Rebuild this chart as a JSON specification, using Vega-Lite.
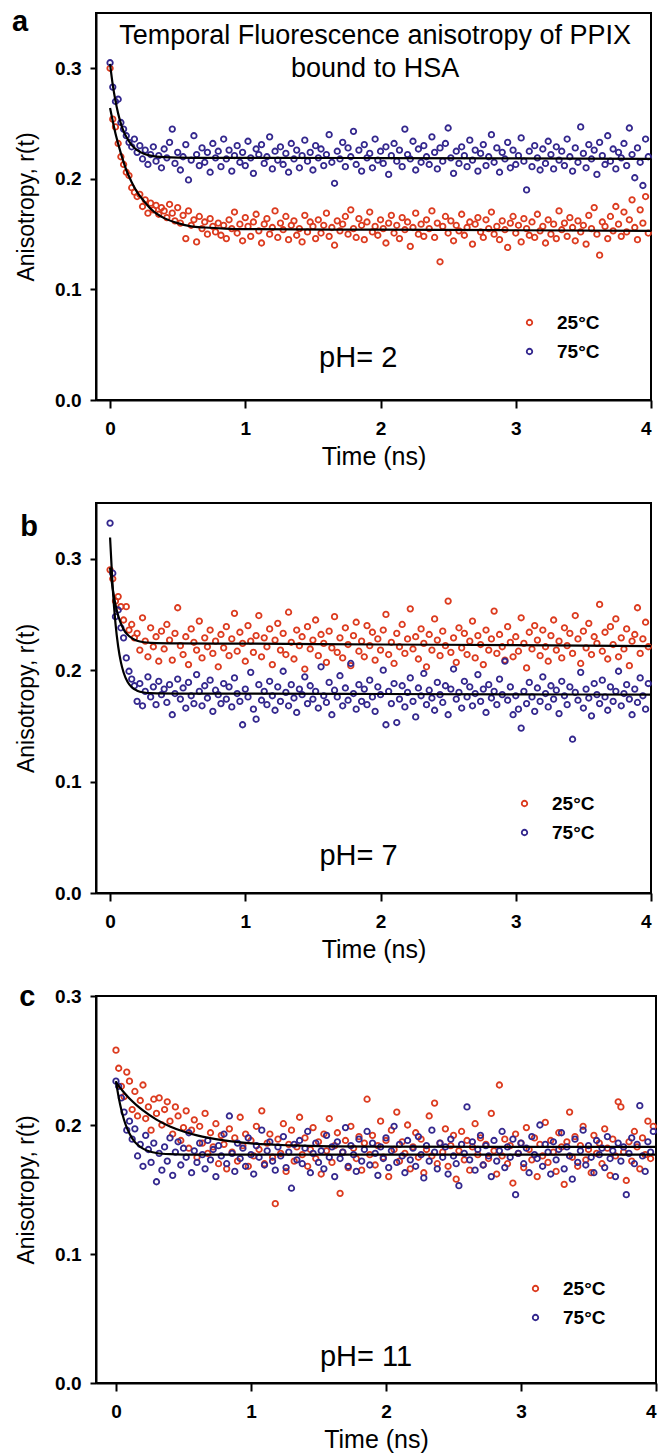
{
"$schema":"https://vega.github.io/schema/vega-lite/v6.json",
"background":"white",
"padding":{"left":11,"top":7,"right":0,"bottom":0},
"spacing":103,
"bounds":"flush",
"resolve":{"legend":{"color":"independent"}},
"config":{
"font":"Liberation Sans",
"view":{"stroke":"black","strokeWidth":2},
"axis":{"grid":false,"domainColor":"black","domainWidth":2,"tickColor":"black","tickWidth":2,"labelColor":"black","titleColor":"black","labelFont":"Liberation Sans","titleFont":"Liberation Sans","labelFontSize":19,"labelFontWeight":"bold","titleFontWeight":"normal"},
"axisX":{"tickSize":8,"labelPadding":11,"titleFontSize":25,"titlePadding":6},
"axisY":{"tickSize":6,"labelPadding":9,"titleFontSize":23,"titlePadding":16},
"legend":{"labelFont":"Liberation Sans","labelFontSize":19,"labelFontWeight":"bold","labelColor":"black","symbolSize":30,"symbolStrokeWidth":1.8,"labelOffset":18,"rowPadding":9,"padding":0}
},
"datasets":{
"pa":[
{"t":0,"T":25,"r":0.300},{"t":0.02,"T":25,"r":0.254},{"t":0.04,"T":25,"r":0.247},{"t":0.06,"T":25,"r":0.232},{"t":0.08,"T":25,"r":0.220},{"t":0.1,"T":25,"r":0.213},{"t":0.12,"T":25,"r":0.206},{"t":0.14,"T":25,"r":0.203},{"t":0.16,"T":25,"r":0.192},{"t":0.18,"T":25,"r":0.188},
{"t":0.2,"T":25,"r":0.184},{"t":0.22,"T":25,"r":0.186},{"t":0.24,"T":25,"r":0.175},{"t":0.26,"T":25,"r":0.181},{"t":0.28,"T":25,"r":0.169},{"t":0.3,"T":25,"r":0.178},{"t":0.32,"T":25,"r":0.172},{"t":0.34,"T":25,"r":0.176},{"t":0.36,"T":25,"r":0.168},{"t":0.38,"T":25,"r":0.174},
{"t":0.4,"T":25,"r":0.171},{"t":0.42,"T":25,"r":0.165},{"t":0.44,"T":25,"r":0.177},{"t":0.46,"T":25,"r":0.169},{"t":0.48,"T":25,"r":0.162},{"t":0.5,"T":25,"r":0.174},{"t":0.52,"T":25,"r":0.160},{"t":0.54,"T":25,"r":0.167},{"t":0.56,"T":25,"r":0.146},{"t":0.58,"T":25,"r":0.171},
{"t":0.6,"T":25,"r":0.158},{"t":0.62,"T":25,"r":0.163},{"t":0.64,"T":25,"r":0.143},{"t":0.66,"T":25,"r":0.166},{"t":0.68,"T":25,"r":0.155},{"t":0.7,"T":25,"r":0.161},{"t":0.72,"T":25,"r":0.150},{"t":0.74,"T":25,"r":0.164},{"t":0.76,"T":25,"r":0.157},{"t":0.78,"T":25,"r":0.152},
{"t":0.8,"T":25,"r":0.160},{"t":0.82,"T":25,"r":0.149},{"t":0.84,"T":25,"r":0.158},{"t":0.86,"T":25,"r":0.146},{"t":0.88,"T":25,"r":0.163},{"t":0.9,"T":25,"r":0.155},{"t":0.92,"T":25,"r":0.170},{"t":0.94,"T":25,"r":0.151},{"t":0.96,"T":25,"r":0.159},{"t":0.98,"T":25,"r":0.144},
{"t":1,"T":25,"r":0.165},{"t":1.02,"T":25,"r":0.157},{"t":1.04,"T":25,"r":0.148},{"t":1.06,"T":25,"r":0.161},{"t":1.08,"T":25,"r":0.168},{"t":1.1,"T":25,"r":0.153},{"t":1.12,"T":25,"r":0.142},{"t":1.14,"T":25,"r":0.159},{"t":1.16,"T":25,"r":0.164},{"t":1.18,"T":25,"r":0.150},
{"t":1.2,"T":25,"r":0.156},{"t":1.22,"T":25,"r":0.171},{"t":1.24,"T":25,"r":0.147},{"t":1.26,"T":25,"r":0.160},{"t":1.28,"T":25,"r":0.154},{"t":1.3,"T":25,"r":0.166},{"t":1.32,"T":25,"r":0.145},{"t":1.34,"T":25,"r":0.158},{"t":1.36,"T":25,"r":0.162},{"t":1.38,"T":25,"r":0.149},
{"t":1.4,"T":25,"r":0.155},{"t":1.42,"T":25,"r":0.143},{"t":1.44,"T":25,"r":0.167},{"t":1.46,"T":25,"r":0.152},{"t":1.48,"T":25,"r":0.161},{"t":1.5,"T":25,"r":0.157},{"t":1.52,"T":25,"r":0.146},{"t":1.54,"T":25,"r":0.163},{"t":1.56,"T":25,"r":0.151},{"t":1.58,"T":25,"r":0.158},
{"t":1.6,"T":25,"r":0.169},{"t":1.62,"T":25,"r":0.148},{"t":1.64,"T":25,"r":0.156},{"t":1.66,"T":25,"r":0.140},{"t":1.68,"T":25,"r":0.162},{"t":1.7,"T":25,"r":0.153},{"t":1.72,"T":25,"r":0.159},{"t":1.74,"T":25,"r":0.166},{"t":1.76,"T":25,"r":0.150},{"t":1.78,"T":25,"r":0.172},
{"t":1.8,"T":25,"r":0.155},{"t":1.82,"T":25,"r":0.147},{"t":1.84,"T":25,"r":0.164},{"t":1.86,"T":25,"r":0.158},{"t":1.88,"T":25,"r":0.145},{"t":1.9,"T":25,"r":0.161},{"t":1.92,"T":25,"r":0.170},{"t":1.94,"T":25,"r":0.152},{"t":1.96,"T":25,"r":0.157},{"t":1.98,"T":25,"r":0.149},
{"t":2,"T":25,"r":0.163},{"t":2.02,"T":25,"r":0.155},{"t":2.04,"T":25,"r":0.142},{"t":2.06,"T":25,"r":0.160},{"t":2.08,"T":25,"r":0.167},{"t":2.1,"T":25,"r":0.151},{"t":2.12,"T":25,"r":0.158},{"t":2.14,"T":25,"r":0.146},{"t":2.16,"T":25,"r":0.165},{"t":2.18,"T":25,"r":0.154},
{"t":2.2,"T":25,"r":0.161},{"t":2.22,"T":25,"r":0.139},{"t":2.24,"T":25,"r":0.156},{"t":2.26,"T":25,"r":0.169},{"t":2.28,"T":25,"r":0.150},{"t":2.3,"T":25,"r":0.159},{"t":2.32,"T":25,"r":0.148},{"t":2.34,"T":25,"r":0.163},{"t":2.36,"T":25,"r":0.155},{"t":2.38,"T":25,"r":0.171},
{"t":2.4,"T":25,"r":0.147},{"t":2.42,"T":25,"r":0.160},{"t":2.44,"T":25,"r":0.125},{"t":2.46,"T":25,"r":0.157},{"t":2.48,"T":25,"r":0.166},{"t":2.5,"T":25,"r":0.151},{"t":2.52,"T":25,"r":0.162},{"t":2.54,"T":25,"r":0.144},{"t":2.56,"T":25,"r":0.158},{"t":2.58,"T":25,"r":0.153},
{"t":2.6,"T":25,"r":0.168},{"t":2.62,"T":25,"r":0.149},{"t":2.64,"T":25,"r":0.156},{"t":2.66,"T":25,"r":0.161},{"t":2.68,"T":25,"r":0.141},{"t":2.7,"T":25,"r":0.159},{"t":2.72,"T":25,"r":0.165},{"t":2.74,"T":25,"r":0.152},{"t":2.76,"T":25,"r":0.147},{"t":2.78,"T":25,"r":0.163},
{"t":2.8,"T":25,"r":0.155},{"t":2.82,"T":25,"r":0.170},{"t":2.84,"T":25,"r":0.150},{"t":2.86,"T":25,"r":0.157},{"t":2.88,"T":25,"r":0.145},{"t":2.9,"T":25,"r":0.162},{"t":2.92,"T":25,"r":0.154},{"t":2.94,"T":25,"r":0.138},{"t":2.96,"T":25,"r":0.160},{"t":2.98,"T":25,"r":0.166},
{"t":3,"T":25,"r":0.151},{"t":3.02,"T":25,"r":0.158},{"t":3.04,"T":25,"r":0.143},{"t":3.06,"T":25,"r":0.164},{"t":3.08,"T":25,"r":0.155},{"t":3.1,"T":25,"r":0.149},{"t":3.12,"T":25,"r":0.161},{"t":3.14,"T":25,"r":0.147},{"t":3.16,"T":25,"r":0.168},{"t":3.18,"T":25,"r":0.153},
{"t":3.2,"T":25,"r":0.157},{"t":3.22,"T":25,"r":0.142},{"t":3.24,"T":25,"r":0.163},{"t":3.26,"T":25,"r":0.150},{"t":3.28,"T":25,"r":0.159},{"t":3.3,"T":25,"r":0.146},{"t":3.32,"T":25,"r":0.171},{"t":3.34,"T":25,"r":0.154},{"t":3.36,"T":25,"r":0.160},{"t":3.38,"T":25,"r":0.148},
{"t":3.4,"T":25,"r":0.165},{"t":3.42,"T":25,"r":0.156},{"t":3.44,"T":25,"r":0.144},{"t":3.46,"T":25,"r":0.162},{"t":3.48,"T":25,"r":0.152},{"t":3.5,"T":25,"r":0.158},{"t":3.52,"T":25,"r":0.141},{"t":3.54,"T":25,"r":0.167},{"t":3.56,"T":25,"r":0.155},{"t":3.58,"T":25,"r":0.174},
{"t":3.6,"T":25,"r":0.150},{"t":3.62,"T":25,"r":0.131},{"t":3.64,"T":25,"r":0.161},{"t":3.66,"T":25,"r":0.157},{"t":3.68,"T":25,"r":0.146},{"t":3.7,"T":25,"r":0.166},{"t":3.72,"T":25,"r":0.153},{"t":3.74,"T":25,"r":0.175},{"t":3.76,"T":25,"r":0.159},{"t":3.78,"T":25,"r":0.148},
{"t":3.8,"T":25,"r":0.170},{"t":3.82,"T":25,"r":0.152},{"t":3.84,"T":25,"r":0.163},{"t":3.86,"T":25,"r":0.181},{"t":3.88,"T":25,"r":0.156},{"t":3.9,"T":25,"r":0.145},{"t":3.92,"T":25,"r":0.172},{"t":3.94,"T":25,"r":0.160},{"t":3.96,"T":25,"r":0.184},{"t":3.98,"T":25,"r":0.151},
{"t":0,"T":75,"r":0.305},{"t":0.02,"T":75,"r":0.283},{"t":0.04,"T":75,"r":0.270},{"t":0.06,"T":75,"r":0.272},{"t":0.08,"T":75,"r":0.251},{"t":0.1,"T":75,"r":0.245},{"t":0.12,"T":75,"r":0.239},{"t":0.14,"T":75,"r":0.233},{"t":0.16,"T":75,"r":0.229},{"t":0.18,"T":75,"r":0.236},
{"t":0.2,"T":75,"r":0.224},{"t":0.22,"T":75,"r":0.230},{"t":0.24,"T":75,"r":0.218},{"t":0.26,"T":75,"r":0.226},{"t":0.28,"T":75,"r":0.213},{"t":0.3,"T":75,"r":0.222},{"t":0.32,"T":75,"r":0.229},{"t":0.34,"T":75,"r":0.216},{"t":0.36,"T":75,"r":0.221},{"t":0.38,"T":75,"r":0.210},
{"t":0.4,"T":75,"r":0.227},{"t":0.42,"T":75,"r":0.219},{"t":0.44,"T":75,"r":0.233},{"t":0.46,"T":75,"r":0.245},{"t":0.48,"T":75,"r":0.214},{"t":0.5,"T":75,"r":0.224},{"t":0.52,"T":75,"r":0.208},{"t":0.54,"T":75,"r":0.220},{"t":0.56,"T":75,"r":0.231},{"t":0.58,"T":75,"r":0.199},
{"t":0.6,"T":75,"r":0.217},{"t":0.62,"T":75,"r":0.239},{"t":0.64,"T":75,"r":0.222},{"t":0.66,"T":75,"r":0.212},{"t":0.68,"T":75,"r":0.228},{"t":0.7,"T":75,"r":0.215},{"t":0.72,"T":75,"r":0.224},{"t":0.74,"T":75,"r":0.206},{"t":0.76,"T":75,"r":0.232},{"t":0.78,"T":75,"r":0.219},
{"t":0.8,"T":75,"r":0.225},{"t":0.82,"T":75,"r":0.211},{"t":0.84,"T":75,"r":0.236},{"t":0.86,"T":75,"r":0.218},{"t":0.88,"T":75,"r":0.226},{"t":0.9,"T":75,"r":0.207},{"t":0.92,"T":75,"r":0.221},{"t":0.94,"T":75,"r":0.230},{"t":0.96,"T":75,"r":0.215},{"t":0.98,"T":75,"r":0.224},
{"t":1,"T":75,"r":0.212},{"t":1.02,"T":75,"r":0.234},{"t":1.04,"T":75,"r":0.219},{"t":1.06,"T":75,"r":0.205},{"t":1.08,"T":75,"r":0.227},{"t":1.1,"T":75,"r":0.222},{"t":1.12,"T":75,"r":0.231},{"t":1.14,"T":75,"r":0.214},{"t":1.16,"T":75,"r":0.220},{"t":1.18,"T":75,"r":0.238},
{"t":1.2,"T":75,"r":0.209},{"t":1.22,"T":75,"r":0.225},{"t":1.24,"T":75,"r":0.217},{"t":1.26,"T":75,"r":0.229},{"t":1.28,"T":75,"r":0.213},{"t":1.3,"T":75,"r":0.223},{"t":1.32,"T":75,"r":0.206},{"t":1.34,"T":75,"r":0.232},{"t":1.36,"T":75,"r":0.218},{"t":1.38,"T":75,"r":0.226},
{"t":1.4,"T":75,"r":0.210},{"t":1.42,"T":75,"r":0.221},{"t":1.44,"T":75,"r":0.235},{"t":1.46,"T":75,"r":0.216},{"t":1.48,"T":75,"r":0.224},{"t":1.5,"T":75,"r":0.208},{"t":1.52,"T":75,"r":0.230},{"t":1.54,"T":75,"r":0.219},{"t":1.56,"T":75,"r":0.227},{"t":1.58,"T":75,"r":0.212},
{"t":1.6,"T":75,"r":0.222},{"t":1.62,"T":75,"r":0.240},{"t":1.64,"T":75,"r":0.215},{"t":1.66,"T":75,"r":0.196},{"t":1.68,"T":75,"r":0.225},{"t":1.7,"T":75,"r":0.218},{"t":1.72,"T":75,"r":0.233},{"t":1.74,"T":75,"r":0.211},{"t":1.76,"T":75,"r":0.228},{"t":1.78,"T":75,"r":0.220},
{"t":1.8,"T":75,"r":0.243},{"t":1.82,"T":75,"r":0.213},{"t":1.84,"T":75,"r":0.226},{"t":1.86,"T":75,"r":0.207},{"t":1.88,"T":75,"r":0.231},{"t":1.9,"T":75,"r":0.219},{"t":1.92,"T":75,"r":0.223},{"t":1.94,"T":75,"r":0.210},{"t":1.96,"T":75,"r":0.236},{"t":1.98,"T":75,"r":0.217},
{"t":2,"T":75,"r":0.225},{"t":2.02,"T":75,"r":0.214},{"t":2.04,"T":75,"r":0.229},{"t":2.06,"T":75,"r":0.204},{"t":2.08,"T":75,"r":0.221},{"t":2.1,"T":75,"r":0.232},{"t":2.12,"T":75,"r":0.216},{"t":2.14,"T":75,"r":0.226},{"t":2.16,"T":75,"r":0.211},{"t":2.18,"T":75,"r":0.245},
{"t":2.2,"T":75,"r":0.222},{"t":2.22,"T":75,"r":0.218},{"t":2.24,"T":75,"r":0.234},{"t":2.26,"T":75,"r":0.208},{"t":2.28,"T":75,"r":0.227},{"t":2.3,"T":75,"r":0.215},{"t":2.32,"T":75,"r":0.230},{"t":2.34,"T":75,"r":0.220},{"t":2.36,"T":75,"r":0.213},{"t":2.38,"T":75,"r":0.238},
{"t":2.4,"T":75,"r":0.224},{"t":2.42,"T":75,"r":0.209},{"t":2.44,"T":75,"r":0.228},{"t":2.46,"T":75,"r":0.216},{"t":2.48,"T":75,"r":0.232},{"t":2.5,"T":75,"r":0.246},{"t":2.52,"T":75,"r":0.219},{"t":2.54,"T":75,"r":0.205},{"t":2.56,"T":75,"r":0.225},{"t":2.58,"T":75,"r":0.214},
{"t":2.6,"T":75,"r":0.229},{"t":2.62,"T":75,"r":0.221},{"t":2.64,"T":75,"r":0.211},{"t":2.66,"T":75,"r":0.235},{"t":2.68,"T":75,"r":0.217},{"t":2.7,"T":75,"r":0.226},{"t":2.72,"T":75,"r":0.207},{"t":2.74,"T":75,"r":0.223},{"t":2.76,"T":75,"r":0.231},{"t":2.78,"T":75,"r":0.212},
{"t":2.8,"T":75,"r":0.220},{"t":2.82,"T":75,"r":0.240},{"t":2.84,"T":75,"r":0.215},{"t":2.86,"T":75,"r":0.228},{"t":2.88,"T":75,"r":0.206},{"t":2.9,"T":75,"r":0.224},{"t":2.92,"T":75,"r":0.218},{"t":2.94,"T":75,"r":0.233},{"t":2.96,"T":75,"r":0.210},{"t":2.98,"T":75,"r":0.226},
{"t":3,"T":75,"r":0.213},{"t":3.02,"T":75,"r":0.221},{"t":3.04,"T":75,"r":0.237},{"t":3.06,"T":75,"r":0.216},{"t":3.08,"T":75,"r":0.190},{"t":3.1,"T":75,"r":0.225},{"t":3.12,"T":75,"r":0.211},{"t":3.14,"T":75,"r":0.230},{"t":3.16,"T":75,"r":0.219},{"t":3.18,"T":75,"r":0.208},
{"t":3.2,"T":75,"r":0.227},{"t":3.22,"T":75,"r":0.214},{"t":3.24,"T":75,"r":0.234},{"t":3.26,"T":75,"r":0.222},{"t":3.28,"T":75,"r":0.209},{"t":3.3,"T":75,"r":0.229},{"t":3.32,"T":75,"r":0.217},{"t":3.34,"T":75,"r":0.225},{"t":3.36,"T":75,"r":0.212},{"t":3.38,"T":75,"r":0.236},
{"t":3.4,"T":75,"r":0.220},{"t":3.42,"T":75,"r":0.207},{"t":3.44,"T":75,"r":0.228},{"t":3.46,"T":75,"r":0.215},{"t":3.48,"T":75,"r":0.247},{"t":3.5,"T":75,"r":0.223},{"t":3.52,"T":75,"r":0.210},{"t":3.54,"T":75,"r":0.231},{"t":3.56,"T":75,"r":0.218},{"t":3.58,"T":75,"r":0.226},
{"t":3.6,"T":75,"r":0.204},{"t":3.62,"T":75,"r":0.233},{"t":3.64,"T":75,"r":0.221},{"t":3.66,"T":75,"r":0.213},{"t":3.68,"T":75,"r":0.239},{"t":3.7,"T":75,"r":0.216},{"t":3.72,"T":75,"r":0.227},{"t":3.74,"T":75,"r":0.209},{"t":3.76,"T":75,"r":0.224},{"t":3.78,"T":75,"r":0.219},
{"t":3.8,"T":75,"r":0.232},{"t":3.82,"T":75,"r":0.212},{"t":3.84,"T":75,"r":0.246},{"t":3.86,"T":75,"r":0.222},{"t":3.88,"T":75,"r":0.201},{"t":3.9,"T":75,"r":0.228},{"t":3.92,"T":75,"r":0.215},{"t":3.94,"T":75,"r":0.194},{"t":3.96,"T":75,"r":0.236},{"t":3.98,"T":75,"r":0.220}
],
"pb":[
{"t":0,"T":25,"r":0.290},{"t":0.02,"T":25,"r":0.282},{"t":0.04,"T":25,"r":0.262},{"t":0.06,"T":25,"r":0.266},{"t":0.08,"T":25,"r":0.257},{"t":0.1,"T":25,"r":0.245},{"t":0.12,"T":25,"r":0.257},{"t":0.14,"T":25,"r":0.236},{"t":0.16,"T":25,"r":0.241},{"t":0.18,"T":25,"r":0.229},
{"t":0.2,"T":25,"r":0.233},{"t":0.22,"T":25,"r":0.218},{"t":0.24,"T":25,"r":0.247},{"t":0.26,"T":25,"r":0.226},{"t":0.28,"T":25,"r":0.212},{"t":0.3,"T":25,"r":0.238},{"t":0.32,"T":25,"r":0.221},{"t":0.34,"T":25,"r":0.230},{"t":0.36,"T":25,"r":0.208},{"t":0.38,"T":25,"r":0.235},
{"t":0.4,"T":25,"r":0.219},{"t":0.42,"T":25,"r":0.241},{"t":0.44,"T":25,"r":0.227},{"t":0.46,"T":25,"r":0.209},{"t":0.48,"T":25,"r":0.233},{"t":0.5,"T":25,"r":0.256},{"t":0.52,"T":25,"r":0.222},{"t":0.54,"T":25,"r":0.214},{"t":0.56,"T":25,"r":0.230},{"t":0.58,"T":25,"r":0.205},
{"t":0.6,"T":25,"r":0.237},{"t":0.62,"T":25,"r":0.225},{"t":0.64,"T":25,"r":0.218},{"t":0.66,"T":25,"r":0.244},{"t":0.68,"T":25,"r":0.211},{"t":0.7,"T":25,"r":0.229},{"t":0.72,"T":25,"r":0.221},{"t":0.74,"T":25,"r":0.236},{"t":0.76,"T":25,"r":0.215},{"t":0.78,"T":25,"r":0.226},
{"t":0.8,"T":25,"r":0.203},{"t":0.82,"T":25,"r":0.232},{"t":0.84,"T":25,"r":0.220},{"t":0.86,"T":25,"r":0.239},{"t":0.88,"T":25,"r":0.213},{"t":0.9,"T":25,"r":0.228},{"t":0.92,"T":25,"r":0.251},{"t":0.94,"T":25,"r":0.217},{"t":0.96,"T":25,"r":0.234},{"t":0.98,"T":25,"r":0.224},
{"t":1,"T":25,"r":0.208},{"t":1.02,"T":25,"r":0.240},{"t":1.04,"T":25,"r":0.226},{"t":1.06,"T":25,"r":0.216},{"t":1.08,"T":25,"r":0.231},{"t":1.1,"T":25,"r":0.249},{"t":1.12,"T":25,"r":0.212},{"t":1.14,"T":25,"r":0.229},{"t":1.16,"T":25,"r":0.221},{"t":1.18,"T":25,"r":0.237},
{"t":1.2,"T":25,"r":0.205},{"t":1.22,"T":25,"r":0.227},{"t":1.24,"T":25,"r":0.242},{"t":1.26,"T":25,"r":0.218},{"t":1.28,"T":25,"r":0.233},{"t":1.3,"T":25,"r":0.214},{"t":1.32,"T":25,"r":0.252},{"t":1.34,"T":25,"r":0.225},{"t":1.36,"T":25,"r":0.210},{"t":1.38,"T":25,"r":0.236},
{"t":1.4,"T":25,"r":0.222},{"t":1.42,"T":25,"r":0.230},{"t":1.44,"T":25,"r":0.201},{"t":1.46,"T":25,"r":0.239},{"t":1.48,"T":25,"r":0.219},{"t":1.5,"T":25,"r":0.227},{"t":1.52,"T":25,"r":0.245},{"t":1.54,"T":25,"r":0.213},{"t":1.56,"T":25,"r":0.232},{"t":1.58,"T":25,"r":0.224},
{"t":1.6,"T":25,"r":0.207},{"t":1.62,"T":25,"r":0.235},{"t":1.64,"T":25,"r":0.220},{"t":1.66,"T":25,"r":0.248},{"t":1.68,"T":25,"r":0.216},{"t":1.7,"T":25,"r":0.229},{"t":1.72,"T":25,"r":0.211},{"t":1.74,"T":25,"r":0.238},{"t":1.76,"T":25,"r":0.223},{"t":1.78,"T":25,"r":0.204},
{"t":1.8,"T":25,"r":0.231},{"t":1.82,"T":25,"r":0.243},{"t":1.84,"T":25,"r":0.217},{"t":1.86,"T":25,"r":0.226},{"t":1.88,"T":25,"r":0.212},{"t":1.9,"T":25,"r":0.240},{"t":1.92,"T":25,"r":0.222},{"t":1.94,"T":25,"r":0.234},{"t":1.96,"T":25,"r":0.209},{"t":1.98,"T":25,"r":0.228},
{"t":2,"T":25,"r":0.218},{"t":2.02,"T":25,"r":0.236},{"t":2.04,"T":25,"r":0.250},{"t":2.06,"T":25,"r":0.214},{"t":2.08,"T":25,"r":0.225},{"t":2.1,"T":25,"r":0.206},{"t":2.12,"T":25,"r":0.233},{"t":2.14,"T":25,"r":0.221},{"t":2.16,"T":25,"r":0.241},{"t":2.18,"T":25,"r":0.215},
{"t":2.2,"T":25,"r":0.228},{"t":2.22,"T":25,"r":0.255},{"t":2.24,"T":25,"r":0.219},{"t":2.26,"T":25,"r":0.230},{"t":2.28,"T":25,"r":0.210},{"t":2.3,"T":25,"r":0.237},{"t":2.32,"T":25,"r":0.224},{"t":2.34,"T":25,"r":0.203},{"t":2.36,"T":25,"r":0.232},{"t":2.38,"T":25,"r":0.218},
{"t":2.4,"T":25,"r":0.246},{"t":2.42,"T":25,"r":0.227},{"t":2.44,"T":25,"r":0.213},{"t":2.46,"T":25,"r":0.235},{"t":2.48,"T":25,"r":0.222},{"t":2.5,"T":25,"r":0.262},{"t":2.52,"T":25,"r":0.216},{"t":2.54,"T":25,"r":0.229},{"t":2.56,"T":25,"r":0.207},{"t":2.58,"T":25,"r":0.238},
{"t":2.6,"T":25,"r":0.220},{"t":2.62,"T":25,"r":0.233},{"t":2.64,"T":25,"r":0.214},{"t":2.66,"T":25,"r":0.226},{"t":2.68,"T":25,"r":0.244},{"t":2.7,"T":25,"r":0.211},{"t":2.72,"T":25,"r":0.231},{"t":2.74,"T":25,"r":0.223},{"t":2.76,"T":25,"r":0.205},{"t":2.78,"T":25,"r":0.236},
{"t":2.8,"T":25,"r":0.218},{"t":2.82,"T":25,"r":0.228},{"t":2.84,"T":25,"r":0.253},{"t":2.86,"T":25,"r":0.215},{"t":2.88,"T":25,"r":0.232},{"t":2.9,"T":25,"r":0.221},{"t":2.92,"T":25,"r":0.209},{"t":2.94,"T":25,"r":0.239},{"t":2.96,"T":25,"r":0.225},{"t":2.98,"T":25,"r":0.212},
{"t":3,"T":25,"r":0.230},{"t":3.02,"T":25,"r":0.217},{"t":3.04,"T":25,"r":0.247},{"t":3.06,"T":25,"r":0.224},{"t":3.08,"T":25,"r":0.202},{"t":3.1,"T":25,"r":0.234},{"t":3.12,"T":25,"r":0.219},{"t":3.14,"T":25,"r":0.240},{"t":3.16,"T":25,"r":0.227},{"t":3.18,"T":25,"r":0.213},
{"t":3.2,"T":25,"r":0.236},{"t":3.22,"T":25,"r":0.221},{"t":3.24,"T":25,"r":0.208},{"t":3.26,"T":25,"r":0.231},{"t":3.28,"T":25,"r":0.245},{"t":3.3,"T":25,"r":0.218},{"t":3.32,"T":25,"r":0.226},{"t":3.34,"T":25,"r":0.211},{"t":3.36,"T":25,"r":0.238},{"t":3.38,"T":25,"r":0.222},
{"t":3.4,"T":25,"r":0.233},{"t":3.42,"T":25,"r":0.215},{"t":3.44,"T":25,"r":0.249},{"t":3.46,"T":25,"r":0.228},{"t":3.48,"T":25,"r":0.206},{"t":3.5,"T":25,"r":0.235},{"t":3.52,"T":25,"r":0.220},{"t":3.54,"T":25,"r":0.242},{"t":3.56,"T":25,"r":0.214},{"t":3.58,"T":25,"r":0.230},
{"t":3.6,"T":25,"r":0.224},{"t":3.62,"T":25,"r":0.259},{"t":3.64,"T":25,"r":0.217},{"t":3.66,"T":25,"r":0.234},{"t":3.68,"T":25,"r":0.210},{"t":3.7,"T":25,"r":0.239},{"t":3.72,"T":25,"r":0.223},{"t":3.74,"T":25,"r":0.246},{"t":3.76,"T":25,"r":0.212},{"t":3.78,"T":25,"r":0.229},
{"t":3.8,"T":25,"r":0.219},{"t":3.82,"T":25,"r":0.237},{"t":3.84,"T":25,"r":0.204},{"t":3.86,"T":25,"r":0.226},{"t":3.88,"T":25,"r":0.232},{"t":3.9,"T":25,"r":0.256},{"t":3.92,"T":25,"r":0.215},{"t":3.94,"T":25,"r":0.228},{"t":3.96,"T":25,"r":0.243},{"t":3.98,"T":25,"r":0.221},
{"t":0,"T":75,"r":0.332},{"t":0.02,"T":75,"r":0.287},{"t":0.04,"T":75,"r":0.248},{"t":0.06,"T":75,"r":0.254},{"t":0.08,"T":75,"r":0.238},{"t":0.1,"T":75,"r":0.229},{"t":0.12,"T":75,"r":0.211},{"t":0.14,"T":75,"r":0.199},{"t":0.16,"T":75,"r":0.192},{"t":0.18,"T":75,"r":0.186},
{"t":0.2,"T":75,"r":0.172},{"t":0.22,"T":75,"r":0.188},{"t":0.24,"T":75,"r":0.168},{"t":0.26,"T":75,"r":0.181},{"t":0.28,"T":75,"r":0.194},{"t":0.3,"T":75,"r":0.176},{"t":0.32,"T":75,"r":0.185},{"t":0.34,"T":75,"r":0.169},{"t":0.36,"T":75,"r":0.190},{"t":0.38,"T":75,"r":0.178},
{"t":0.4,"T":75,"r":0.183},{"t":0.42,"T":75,"r":0.171},{"t":0.44,"T":75,"r":0.187},{"t":0.46,"T":75,"r":0.160},{"t":0.48,"T":75,"r":0.179},{"t":0.5,"T":75,"r":0.192},{"t":0.52,"T":75,"r":0.174},{"t":0.54,"T":75,"r":0.184},{"t":0.56,"T":75,"r":0.166},{"t":0.58,"T":75,"r":0.189},
{"t":0.6,"T":75,"r":0.177},{"t":0.62,"T":75,"r":0.170},{"t":0.64,"T":75,"r":0.196},{"t":0.66,"T":75,"r":0.181},{"t":0.68,"T":75,"r":0.168},{"t":0.7,"T":75,"r":0.186},{"t":0.72,"T":75,"r":0.175},{"t":0.74,"T":75,"r":0.191},{"t":0.76,"T":75,"r":0.163},{"t":0.78,"T":75,"r":0.182},
{"t":0.8,"T":75,"r":0.178},{"t":0.82,"T":75,"r":0.170},{"t":0.84,"T":75,"r":0.188},{"t":0.86,"T":75,"r":0.174},{"t":0.88,"T":75,"r":0.185},{"t":0.9,"T":75,"r":0.167},{"t":0.92,"T":75,"r":0.193},{"t":0.94,"T":75,"r":0.179},{"t":0.96,"T":75,"r":0.172},{"t":0.98,"T":75,"r":0.151},
{"t":1,"T":75,"r":0.183},{"t":1.02,"T":75,"r":0.176},{"t":1.04,"T":75,"r":0.198},{"t":1.06,"T":75,"r":0.165},{"t":1.08,"T":75,"r":0.156},{"t":1.1,"T":75,"r":0.187},{"t":1.12,"T":75,"r":0.173},{"t":1.14,"T":75,"r":0.181},{"t":1.16,"T":75,"r":0.169},{"t":1.18,"T":75,"r":0.190},
{"t":1.2,"T":75,"r":0.177},{"t":1.22,"T":75,"r":0.164},{"t":1.24,"T":75,"r":0.185},{"t":1.26,"T":75,"r":0.172},{"t":1.28,"T":75,"r":0.199},{"t":1.3,"T":75,"r":0.180},{"t":1.32,"T":75,"r":0.168},{"t":1.34,"T":75,"r":0.187},{"t":1.36,"T":75,"r":0.175},{"t":1.38,"T":75,"r":0.162},
{"t":1.4,"T":75,"r":0.183},{"t":1.42,"T":75,"r":0.178},{"t":1.44,"T":75,"r":0.194},{"t":1.46,"T":75,"r":0.170},{"t":1.48,"T":75,"r":0.186},{"t":1.5,"T":75,"r":0.174},{"t":1.52,"T":75,"r":0.181},{"t":1.54,"T":75,"r":0.166},{"t":1.56,"T":75,"r":0.203},{"t":1.58,"T":75,"r":0.177},
{"t":1.6,"T":75,"r":0.171},{"t":1.62,"T":75,"r":0.189},{"t":1.64,"T":75,"r":0.160},{"t":1.66,"T":75,"r":0.182},{"t":1.68,"T":75,"r":0.176},{"t":1.7,"T":75,"r":0.195},{"t":1.72,"T":75,"r":0.168},{"t":1.74,"T":75,"r":0.184},{"t":1.76,"T":75,"r":0.173},{"t":1.78,"T":75,"r":0.206},
{"t":1.8,"T":75,"r":0.179},{"t":1.82,"T":75,"r":0.165},{"t":1.84,"T":75,"r":0.187},{"t":1.86,"T":75,"r":0.172},{"t":1.88,"T":75,"r":0.183},{"t":1.9,"T":75,"r":0.169},{"t":1.92,"T":75,"r":0.191},{"t":1.94,"T":75,"r":0.176},{"t":1.96,"T":75,"r":0.163},{"t":1.98,"T":75,"r":0.185},
{"t":2,"T":75,"r":0.178},{"t":2.02,"T":75,"r":0.200},{"t":2.04,"T":75,"r":0.151},{"t":2.06,"T":75,"r":0.181},{"t":2.08,"T":75,"r":0.170},{"t":2.1,"T":75,"r":0.188},{"t":2.12,"T":75,"r":0.153},{"t":2.14,"T":75,"r":0.174},{"t":2.16,"T":75,"r":0.186},{"t":2.18,"T":75,"r":0.167},
{"t":2.2,"T":75,"r":0.180},{"t":2.22,"T":75,"r":0.193},{"t":2.24,"T":75,"r":0.172},{"t":2.26,"T":75,"r":0.158},{"t":2.28,"T":75,"r":0.184},{"t":2.3,"T":75,"r":0.177},{"t":2.32,"T":75,"r":0.197},{"t":2.34,"T":75,"r":0.169},{"t":2.36,"T":75,"r":0.182},{"t":2.38,"T":75,"r":0.175},
{"t":2.4,"T":75,"r":0.164},{"t":2.42,"T":75,"r":0.189},{"t":2.44,"T":75,"r":0.178},{"t":2.46,"T":75,"r":0.171},{"t":2.48,"T":75,"r":0.186},{"t":2.5,"T":75,"r":0.160},{"t":2.52,"T":75,"r":0.183},{"t":2.54,"T":75,"r":0.201},{"t":2.56,"T":75,"r":0.174},{"t":2.58,"T":75,"r":0.180},
{"t":2.6,"T":75,"r":0.166},{"t":2.62,"T":75,"r":0.190},{"t":2.64,"T":75,"r":0.176},{"t":2.66,"T":75,"r":0.185},{"t":2.68,"T":75,"r":0.168},{"t":2.7,"T":75,"r":0.179},{"t":2.72,"T":75,"r":0.196},{"t":2.74,"T":75,"r":0.172},{"t":2.76,"T":75,"r":0.183},{"t":2.78,"T":75,"r":0.162},
{"t":2.8,"T":75,"r":0.187},{"t":2.82,"T":75,"r":0.175},{"t":2.84,"T":75,"r":0.181},{"t":2.86,"T":75,"r":0.169},{"t":2.88,"T":75,"r":0.192},{"t":2.9,"T":75,"r":0.178},{"t":2.92,"T":75,"r":0.208},{"t":2.94,"T":75,"r":0.173},{"t":2.96,"T":75,"r":0.185},{"t":2.98,"T":75,"r":0.160},
{"t":3,"T":75,"r":0.177},{"t":3.02,"T":75,"r":0.165},{"t":3.04,"T":75,"r":0.148},{"t":3.06,"T":75,"r":0.181},{"t":3.08,"T":75,"r":0.170},{"t":3.1,"T":75,"r":0.189},{"t":3.12,"T":75,"r":0.176},{"t":3.14,"T":75,"r":0.163},{"t":3.16,"T":75,"r":0.184},{"t":3.18,"T":75,"r":0.172},
{"t":3.2,"T":75,"r":0.194},{"t":3.22,"T":75,"r":0.179},{"t":3.24,"T":75,"r":0.167},{"t":3.26,"T":75,"r":0.186},{"t":3.28,"T":75,"r":0.174},{"t":3.3,"T":75,"r":0.182},{"t":3.32,"T":75,"r":0.161},{"t":3.34,"T":75,"r":0.190},{"t":3.36,"T":75,"r":0.177},{"t":3.38,"T":75,"r":0.169},
{"t":3.4,"T":75,"r":0.185},{"t":3.42,"T":75,"r":0.138},{"t":3.44,"T":75,"r":0.180},{"t":3.46,"T":75,"r":0.173},{"t":3.48,"T":75,"r":0.198},{"t":3.5,"T":75,"r":0.166},{"t":3.52,"T":75,"r":0.183},{"t":3.54,"T":75,"r":0.175},{"t":3.56,"T":75,"r":0.159},{"t":3.58,"T":75,"r":0.188},
{"t":3.6,"T":75,"r":0.178},{"t":3.62,"T":75,"r":0.170},{"t":3.64,"T":75,"r":0.191},{"t":3.66,"T":75,"r":0.176},{"t":3.68,"T":75,"r":0.164},{"t":3.7,"T":75,"r":0.185},{"t":3.72,"T":75,"r":0.172},{"t":3.74,"T":75,"r":0.181},{"t":3.76,"T":75,"r":0.199},{"t":3.78,"T":75,"r":0.168},
{"t":3.8,"T":75,"r":0.179},{"t":3.82,"T":75,"r":0.187},{"t":3.84,"T":75,"r":0.174},{"t":3.86,"T":75,"r":0.160},{"t":3.88,"T":75,"r":0.183},{"t":3.9,"T":75,"r":0.171},{"t":3.92,"T":75,"r":0.193},{"t":3.94,"T":75,"r":0.177},{"t":3.96,"T":75,"r":0.165},{"t":3.98,"T":75,"r":0.188}
],
"pc":[
{"t":0,"T":25,"r":0.258},{"t":0.02,"T":25,"r":0.244},{"t":0.04,"T":25,"r":0.230},{"t":0.06,"T":25,"r":0.222},{"t":0.08,"T":25,"r":0.241},{"t":0.1,"T":25,"r":0.234},{"t":0.12,"T":25,"r":0.212},{"t":0.14,"T":25,"r":0.226},{"t":0.16,"T":25,"r":0.207},{"t":0.18,"T":25,"r":0.219},
{"t":0.2,"T":25,"r":0.231},{"t":0.22,"T":25,"r":0.205},{"t":0.24,"T":25,"r":0.214},{"t":0.26,"T":25,"r":0.196},{"t":0.28,"T":25,"r":0.220},{"t":0.3,"T":25,"r":0.209},{"t":0.32,"T":25,"r":0.221},{"t":0.34,"T":25,"r":0.200},{"t":0.36,"T":25,"r":0.212},{"t":0.38,"T":25,"r":0.218},
{"t":0.4,"T":25,"r":0.203},{"t":0.42,"T":25,"r":0.193},{"t":0.44,"T":25,"r":0.214},{"t":0.46,"T":25,"r":0.207},{"t":0.48,"T":25,"r":0.188},{"t":0.5,"T":25,"r":0.198},{"t":0.52,"T":25,"r":0.211},{"t":0.54,"T":25,"r":0.182},{"t":0.56,"T":25,"r":0.196},{"t":0.58,"T":25,"r":0.204},
{"t":0.6,"T":25,"r":0.175},{"t":0.62,"T":25,"r":0.199},{"t":0.64,"T":25,"r":0.186},{"t":0.66,"T":25,"r":0.209},{"t":0.68,"T":25,"r":0.178},{"t":0.7,"T":25,"r":0.194},{"t":0.72,"T":25,"r":0.183},{"t":0.74,"T":25,"r":0.201},{"t":0.76,"T":25,"r":0.170},{"t":0.78,"T":25,"r":0.192},
{"t":0.8,"T":25,"r":0.185},{"t":0.82,"T":25,"r":0.166},{"t":0.84,"T":25,"r":0.197},{"t":0.86,"T":25,"r":0.179},{"t":0.88,"T":25,"r":0.190},{"t":0.9,"T":25,"r":0.172},{"t":0.92,"T":25,"r":0.206},{"t":0.94,"T":25,"r":0.184},{"t":0.96,"T":25,"r":0.193},{"t":0.98,"T":25,"r":0.168},
{"t":1,"T":25,"r":0.188},{"t":1.02,"T":25,"r":0.176},{"t":1.04,"T":25,"r":0.199},{"t":1.06,"T":25,"r":0.181},{"t":1.08,"T":25,"r":0.211},{"t":1.1,"T":25,"r":0.170},{"t":1.12,"T":25,"r":0.186},{"t":1.14,"T":25,"r":0.193},{"t":1.16,"T":25,"r":0.175},{"t":1.18,"T":25,"r":0.139},
{"t":1.2,"T":25,"r":0.189},{"t":1.22,"T":25,"r":0.178},{"t":1.24,"T":25,"r":0.201},{"t":1.26,"T":25,"r":0.164},{"t":1.28,"T":25,"r":0.185},{"t":1.3,"T":25,"r":0.196},{"t":1.32,"T":25,"r":0.172},{"t":1.34,"T":25,"r":0.183},{"t":1.36,"T":25,"r":0.206},{"t":1.38,"T":25,"r":0.177},
{"t":1.4,"T":25,"r":0.190},{"t":1.42,"T":25,"r":0.168},{"t":1.44,"T":25,"r":0.181},{"t":1.46,"T":25,"r":0.198},{"t":1.48,"T":25,"r":0.174},{"t":1.5,"T":25,"r":0.187},{"t":1.52,"T":25,"r":0.162},{"t":1.54,"T":25,"r":0.193},{"t":1.56,"T":25,"r":0.180},{"t":1.58,"T":25,"r":0.205},
{"t":1.6,"T":25,"r":0.171},{"t":1.62,"T":25,"r":0.184},{"t":1.64,"T":25,"r":0.194},{"t":1.66,"T":25,"r":0.147},{"t":1.68,"T":25,"r":0.179},{"t":1.7,"T":25,"r":0.188},{"t":1.72,"T":25,"r":0.167},{"t":1.74,"T":25,"r":0.199},{"t":1.76,"T":25,"r":0.182},{"t":1.78,"T":25,"r":0.174},
{"t":1.8,"T":25,"r":0.191},{"t":1.82,"T":25,"r":0.165},{"t":1.84,"T":25,"r":0.186},{"t":1.86,"T":25,"r":0.220},{"t":1.88,"T":25,"r":0.177},{"t":1.9,"T":25,"r":0.192},{"t":1.92,"T":25,"r":0.169},{"t":1.94,"T":25,"r":0.184},{"t":1.96,"T":25,"r":0.203},{"t":1.98,"T":25,"r":0.175},
{"t":2,"T":25,"r":0.188},{"t":2.02,"T":25,"r":0.160},{"t":2.04,"T":25,"r":0.196},{"t":2.06,"T":25,"r":0.181},{"t":2.08,"T":25,"r":0.210},{"t":2.1,"T":25,"r":0.172},{"t":2.12,"T":25,"r":0.187},{"t":2.14,"T":25,"r":0.178},{"t":2.16,"T":25,"r":0.200},{"t":2.18,"T":25,"r":0.166},
{"t":2.2,"T":25,"r":0.183},{"t":2.22,"T":25,"r":0.194},{"t":2.24,"T":25,"r":0.175},{"t":2.26,"T":25,"r":0.189},{"t":2.28,"T":25,"r":0.163},{"t":2.3,"T":25,"r":0.181},{"t":2.32,"T":25,"r":0.207},{"t":2.34,"T":25,"r":0.176},{"t":2.36,"T":25,"r":0.217},{"t":2.38,"T":25,"r":0.170},
{"t":2.4,"T":25,"r":0.186},{"t":2.42,"T":25,"r":0.179},{"t":2.44,"T":25,"r":0.197},{"t":2.46,"T":25,"r":0.168},{"t":2.48,"T":25,"r":0.184},{"t":2.5,"T":25,"r":0.192},{"t":2.52,"T":25,"r":0.158},{"t":2.54,"T":25,"r":0.180},{"t":2.56,"T":25,"r":0.195},{"t":2.58,"T":25,"r":0.173},
{"t":2.6,"T":25,"r":0.188},{"t":2.62,"T":25,"r":0.165},{"t":2.64,"T":25,"r":0.183},{"t":2.66,"T":25,"r":0.201},{"t":2.68,"T":25,"r":0.177},{"t":2.7,"T":25,"r":0.190},{"t":2.72,"T":25,"r":0.169},{"t":2.74,"T":25,"r":0.185},{"t":2.76,"T":25,"r":0.174},{"t":2.78,"T":25,"r":0.209},
{"t":2.8,"T":25,"r":0.180},{"t":2.82,"T":25,"r":0.162},{"t":2.84,"T":25,"r":0.231},{"t":2.86,"T":25,"r":0.176},{"t":2.88,"T":25,"r":0.189},{"t":2.9,"T":25,"r":0.170},{"t":2.92,"T":25,"r":0.184},{"t":2.94,"T":25,"r":0.155},{"t":2.96,"T":25,"r":0.193},{"t":2.98,"T":25,"r":0.178},
{"t":3,"T":25,"r":0.186},{"t":3.02,"T":25,"r":0.167},{"t":3.04,"T":25,"r":0.198},{"t":3.06,"T":25,"r":0.181},{"t":3.08,"T":25,"r":0.173},{"t":3.1,"T":25,"r":0.190},{"t":3.12,"T":25,"r":0.160},{"t":3.14,"T":25,"r":0.185},{"t":3.16,"T":25,"r":0.176},{"t":3.18,"T":25,"r":0.202},
{"t":3.2,"T":25,"r":0.171},{"t":3.22,"T":25,"r":0.188},{"t":3.24,"T":25,"r":0.179},{"t":3.26,"T":25,"r":0.164},{"t":3.28,"T":25,"r":0.194},{"t":3.3,"T":25,"r":0.183},{"t":3.32,"T":25,"r":0.154},{"t":3.34,"T":25,"r":0.187},{"t":3.36,"T":25,"r":0.210},{"t":3.38,"T":25,"r":0.175},
{"t":3.4,"T":25,"r":0.191},{"t":3.42,"T":25,"r":0.168},{"t":3.44,"T":25,"r":0.184},{"t":3.46,"T":25,"r":0.199},{"t":3.48,"T":25,"r":0.173},{"t":3.5,"T":25,"r":0.181},{"t":3.52,"T":25,"r":0.163},{"t":3.54,"T":25,"r":0.192},{"t":3.56,"T":25,"r":0.178},{"t":3.58,"T":25,"r":0.186},
{"t":3.6,"T":25,"r":0.170},{"t":3.62,"T":25,"r":0.197},{"t":3.64,"T":25,"r":0.182},{"t":3.66,"T":25,"r":0.161},{"t":3.68,"T":25,"r":0.189},{"t":3.7,"T":25,"r":0.176},{"t":3.72,"T":25,"r":0.218},{"t":3.74,"T":25,"r":0.214},{"t":3.76,"T":25,"r":0.179},{"t":3.78,"T":25,"r":0.157},
{"t":3.8,"T":25,"r":0.187},{"t":3.82,"T":25,"r":0.172},{"t":3.84,"T":25,"r":0.195},{"t":3.86,"T":25,"r":0.183},{"t":3.88,"T":25,"r":0.166},{"t":3.9,"T":25,"r":0.190},{"t":3.92,"T":25,"r":0.177},{"t":3.94,"T":25,"r":0.203},{"t":3.96,"T":25,"r":0.174},{"t":3.98,"T":25,"r":0.199},
{"t":0,"T":75,"r":0.234},{"t":0.02,"T":75,"r":0.230},{"t":0.04,"T":75,"r":0.221},{"t":0.06,"T":75,"r":0.210},{"t":0.08,"T":75,"r":0.196},{"t":0.1,"T":75,"r":0.203},{"t":0.12,"T":75,"r":0.189},{"t":0.14,"T":75,"r":0.197},{"t":0.16,"T":75,"r":0.176},{"t":0.18,"T":75,"r":0.185},
{"t":0.2,"T":75,"r":0.168},{"t":0.22,"T":75,"r":0.192},{"t":0.24,"T":75,"r":0.181},{"t":0.26,"T":75,"r":0.171},{"t":0.28,"T":75,"r":0.186},{"t":0.3,"T":75,"r":0.156},{"t":0.32,"T":75,"r":0.178},{"t":0.34,"T":75,"r":0.165},{"t":0.36,"T":75,"r":0.183},{"t":0.38,"T":75,"r":0.172},
{"t":0.4,"T":75,"r":0.190},{"t":0.42,"T":75,"r":0.161},{"t":0.44,"T":75,"r":0.179},{"t":0.46,"T":75,"r":0.187},{"t":0.48,"T":75,"r":0.169},{"t":0.5,"T":75,"r":0.182},{"t":0.52,"T":75,"r":0.175},{"t":0.54,"T":75,"r":0.194},{"t":0.56,"T":75,"r":0.163},{"t":0.58,"T":75,"r":0.180},
{"t":0.6,"T":75,"r":0.171},{"t":0.62,"T":75,"r":0.186},{"t":0.64,"T":75,"r":0.177},{"t":0.66,"T":75,"r":0.166},{"t":0.68,"T":75,"r":0.188},{"t":0.7,"T":75,"r":0.173},{"t":0.72,"T":75,"r":0.181},{"t":0.74,"T":75,"r":0.160},{"t":0.76,"T":75,"r":0.184},{"t":0.78,"T":75,"r":0.176},
{"t":0.8,"T":75,"r":0.193},{"t":0.82,"T":75,"r":0.170},{"t":0.84,"T":75,"r":0.207},{"t":0.86,"T":75,"r":0.178},{"t":0.88,"T":75,"r":0.164},{"t":0.9,"T":75,"r":0.186},{"t":0.92,"T":75,"r":0.174},{"t":0.94,"T":75,"r":0.182},{"t":0.96,"T":75,"r":0.168},{"t":0.98,"T":75,"r":0.190},
{"t":1,"T":75,"r":0.177},{"t":1.02,"T":75,"r":0.162},{"t":1.04,"T":75,"r":0.184},{"t":1.06,"T":75,"r":0.175},{"t":1.08,"T":75,"r":0.196},{"t":1.1,"T":75,"r":0.169},{"t":1.12,"T":75,"r":0.180},{"t":1.14,"T":75,"r":0.187},{"t":1.16,"T":75,"r":0.172},{"t":1.18,"T":75,"r":0.165},
{"t":1.2,"T":75,"r":0.183},{"t":1.22,"T":75,"r":0.176},{"t":1.24,"T":75,"r":0.191},{"t":1.26,"T":75,"r":0.167},{"t":1.28,"T":75,"r":0.179},{"t":1.3,"T":75,"r":0.151},{"t":1.32,"T":75,"r":0.185},{"t":1.34,"T":75,"r":0.173},{"t":1.36,"T":75,"r":0.188},{"t":1.38,"T":75,"r":0.170},
{"t":1.4,"T":75,"r":0.182},{"t":1.42,"T":75,"r":0.195},{"t":1.44,"T":75,"r":0.163},{"t":1.46,"T":75,"r":0.178},{"t":1.48,"T":75,"r":0.186},{"t":1.5,"T":75,"r":0.171},{"t":1.52,"T":75,"r":0.180},{"t":1.54,"T":75,"r":0.166},{"t":1.56,"T":75,"r":0.192},{"t":1.58,"T":75,"r":0.175},
{"t":1.6,"T":75,"r":0.183},{"t":1.62,"T":75,"r":0.160},{"t":1.64,"T":75,"r":0.187},{"t":1.66,"T":75,"r":0.174},{"t":1.68,"T":75,"r":0.179},{"t":1.7,"T":75,"r":0.198},{"t":1.72,"T":75,"r":0.168},{"t":1.74,"T":75,"r":0.184},{"t":1.76,"T":75,"r":0.177},{"t":1.78,"T":75,"r":0.164},
{"t":1.8,"T":75,"r":0.189},{"t":1.82,"T":75,"r":0.172},{"t":1.84,"T":75,"r":0.181},{"t":1.86,"T":75,"r":0.195},{"t":1.88,"T":75,"r":0.169},{"t":1.9,"T":75,"r":0.186},{"t":1.92,"T":75,"r":0.178},{"t":1.94,"T":75,"r":0.161},{"t":1.96,"T":75,"r":0.183},{"t":1.98,"T":75,"r":0.174},
{"t":2,"T":75,"r":0.190},{"t":2.02,"T":75,"r":0.167},{"t":2.04,"T":75,"r":0.180},{"t":2.06,"T":75,"r":0.199},{"t":2.08,"T":75,"r":0.171},{"t":2.1,"T":75,"r":0.185},{"t":2.12,"T":75,"r":0.176},{"t":2.14,"T":75,"r":0.163},{"t":2.16,"T":75,"r":0.188},{"t":2.18,"T":75,"r":0.173},
{"t":2.2,"T":75,"r":0.182},{"t":2.22,"T":75,"r":0.168},{"t":2.24,"T":75,"r":0.191},{"t":2.26,"T":75,"r":0.177},{"t":2.28,"T":75,"r":0.159},{"t":2.3,"T":75,"r":0.184},{"t":2.32,"T":75,"r":0.172},{"t":2.34,"T":75,"r":0.196},{"t":2.36,"T":75,"r":0.179},{"t":2.38,"T":75,"r":0.166},
{"t":2.4,"T":75,"r":0.186},{"t":2.42,"T":75,"r":0.175},{"t":2.44,"T":75,"r":0.183},{"t":2.46,"T":75,"r":0.162},{"t":2.48,"T":75,"r":0.189},{"t":2.5,"T":75,"r":0.176},{"t":2.52,"T":75,"r":0.170},{"t":2.54,"T":75,"r":0.153},{"t":2.56,"T":75,"r":0.185},{"t":2.58,"T":75,"r":0.178},
{"t":2.6,"T":75,"r":0.214},{"t":2.62,"T":75,"r":0.173},{"t":2.64,"T":75,"r":0.187},{"t":2.66,"T":75,"r":0.165},{"t":2.68,"T":75,"r":0.181},{"t":2.7,"T":75,"r":0.192},{"t":2.72,"T":75,"r":0.169},{"t":2.74,"T":75,"r":0.184},{"t":2.76,"T":75,"r":0.176},{"t":2.78,"T":75,"r":0.160},
{"t":2.8,"T":75,"r":0.188},{"t":2.82,"T":75,"r":0.172},{"t":2.84,"T":75,"r":0.180},{"t":2.86,"T":75,"r":0.195},{"t":2.88,"T":75,"r":0.167},{"t":2.9,"T":75,"r":0.183},{"t":2.92,"T":75,"r":0.175},{"t":2.94,"T":75,"r":0.189},{"t":2.96,"T":75,"r":0.146},{"t":2.98,"T":75,"r":0.178},
{"t":3,"T":75,"r":0.186},{"t":3.02,"T":75,"r":0.170},{"t":3.04,"T":75,"r":0.182},{"t":3.06,"T":75,"r":0.163},{"t":3.08,"T":75,"r":0.191},{"t":3.1,"T":75,"r":0.177},{"t":3.12,"T":75,"r":0.174},{"t":3.14,"T":75,"r":0.200},{"t":3.16,"T":75,"r":0.168},{"t":3.18,"T":75,"r":0.185},
{"t":3.2,"T":75,"r":0.179},{"t":3.22,"T":75,"r":0.162},{"t":3.24,"T":75,"r":0.187},{"t":3.26,"T":75,"r":0.173},{"t":3.28,"T":75,"r":0.181},{"t":3.3,"T":75,"r":0.194},{"t":3.32,"T":75,"r":0.166},{"t":3.34,"T":75,"r":0.183},{"t":3.36,"T":75,"r":0.176},{"t":3.38,"T":75,"r":0.158},
{"t":3.4,"T":75,"r":0.189},{"t":3.42,"T":75,"r":0.171},{"t":3.44,"T":75,"r":0.180},{"t":3.46,"T":75,"r":0.196},{"t":3.48,"T":75,"r":0.169},{"t":3.5,"T":75,"r":0.184},{"t":3.52,"T":75,"r":0.175},{"t":3.54,"T":75,"r":0.163},{"t":3.56,"T":75,"r":0.188},{"t":3.58,"T":75,"r":0.177},
{"t":3.6,"T":75,"r":0.182},{"t":3.62,"T":75,"r":0.167},{"t":3.64,"T":75,"r":0.191},{"t":3.66,"T":75,"r":0.174},{"t":3.68,"T":75,"r":0.180},{"t":3.7,"T":75,"r":0.160},{"t":3.72,"T":75,"r":0.186},{"t":3.74,"T":75,"r":0.172},{"t":3.76,"T":75,"r":0.183},{"t":3.78,"T":75,"r":0.146},
{"t":3.8,"T":75,"r":0.178},{"t":3.82,"T":75,"r":0.190},{"t":3.84,"T":75,"r":0.170},{"t":3.86,"T":75,"r":0.185},{"t":3.88,"T":75,"r":0.215},{"t":3.9,"T":75,"r":0.176},{"t":3.92,"T":75,"r":0.164},{"t":3.94,"T":75,"r":0.187},{"t":3.96,"T":75,"r":0.179},{"t":3.98,"T":75,"r":0.195}
],
"fa":[
{"t":0,"T":25,"f":0.264},{"t":0.04,"T":25,"f":0.241},{"t":0.08,"T":25,"f":0.223},{"t":0.12,"T":25,"f":0.208},{"t":0.16,"T":25,"f":0.197},{"t":0.2,"T":25,"f":0.188},{"t":0.25,"T":25,"f":0.180},{"t":0.3,"T":25,"f":0.173},{"t":0.35,"T":25,"f":0.168},{"t":0.4,"T":25,"f":0.1645},{"t":0.5,"T":25,"f":0.160},{"t":0.6,"T":25,"f":0.157},{"t":0.7,"T":25,"f":0.156},{"t":0.85,"T":25,"f":0.155},{"t":1,"T":25,"f":0.1545},{"t":2,"T":25,"f":0.154},{"t":3,"T":25,"f":0.1535},{"t":4,"T":25,"f":0.153},
{"t":0,"T":75,"f":0.304},{"t":0.02,"T":75,"f":0.285},{"t":0.04,"T":75,"f":0.2705},{"t":0.06,"T":75,"f":0.259},{"t":0.08,"T":75,"f":0.250},{"t":0.1,"T":75,"f":0.243},{"t":0.13,"T":75,"f":0.236},{"t":0.16,"T":75,"f":0.2305},{"t":0.2,"T":75,"f":0.226},{"t":0.25,"T":75,"f":0.2228},{"t":0.3,"T":75,"f":0.221},{"t":0.4,"T":75,"f":0.2196},{"t":0.6,"T":75,"f":0.219},{"t":1,"T":75,"f":0.219},{"t":2,"T":75,"f":0.2188},{"t":3,"T":75,"f":0.2185},{"t":4,"T":75,"f":0.218}
],
"fb":[
{"t":0,"T":25,"f":0.292},{"t":0.02,"T":25,"f":0.2727},{"t":0.04,"T":25,"f":0.259},{"t":0.06,"T":25,"f":0.249},{"t":0.08,"T":25,"f":0.2419},{"t":0.1,"T":25,"f":0.2366},{"t":0.13,"T":25,"f":0.2317},{"t":0.16,"T":25,"f":0.2288},{"t":0.2,"T":25,"f":0.2264},{"t":0.25,"T":25,"f":0.225},{"t":0.3,"T":25,"f":0.2245},{"t":0.5,"T":25,"f":0.224},{"t":1,"T":25,"f":0.2238},{"t":2,"T":25,"f":0.223},{"t":3,"T":25,"f":0.2225},{"t":4,"T":25,"f":0.2215},
{"t":0,"T":75,"f":0.319},{"t":0.02,"T":75,"f":0.2728},{"t":0.04,"T":75,"f":0.2419},{"t":0.06,"T":75,"f":0.2212},{"t":0.08,"T":75,"f":0.2072},{"t":0.1,"T":75,"f":0.1979},{"t":0.13,"T":75,"f":0.1893},{"t":0.16,"T":75,"f":0.1846},{"t":0.2,"T":75,"f":0.1816},{"t":0.25,"T":75,"f":0.1799},{"t":0.3,"T":75,"f":0.1793},{"t":0.5,"T":75,"f":0.179},{"t":1,"T":75,"f":0.1789},{"t":2,"T":75,"f":0.1786},{"t":3,"T":75,"f":0.1783},{"t":4,"T":75,"f":0.178}
],
"fc":[
{"t":0,"T":25,"f":0.233},{"t":0.05,"T":25,"f":0.2264},{"t":0.1,"T":25,"f":0.2205},{"t":0.15,"T":25,"f":0.2156},{"t":0.2,"T":25,"f":0.2113},{"t":0.3,"T":25,"f":0.2042},{"t":0.4,"T":25,"f":0.1989},{"t":0.5,"T":25,"f":0.195},{"t":0.6,"T":25,"f":0.192},{"t":0.8,"T":25,"f":0.1881},{"t":1,"T":25,"f":0.1858},{"t":1.3,"T":25,"f":0.1842},{"t":1.6,"T":25,"f":0.1835},{"t":2,"T":25,"f":0.1832},{"t":3,"T":25,"f":0.183},{"t":4,"T":25,"f":0.183},
{"t":0,"T":75,"f":0.234},{"t":0.02,"T":75,"f":0.2214},{"t":0.04,"T":75,"f":0.2116},{"t":0.06,"T":75,"f":0.2039},{"t":0.08,"T":75,"f":0.198},{"t":0.1,"T":75,"f":0.1934},{"t":0.13,"T":75,"f":0.1881},{"t":0.16,"T":75,"f":0.1847},{"t":0.2,"T":75,"f":0.1817},{"t":0.25,"T":75,"f":0.1795},{"t":0.3,"T":75,"f":0.1783},{"t":0.4,"T":75,"f":0.1774},{"t":0.6,"T":75,"f":0.177},{"t":1,"T":75,"f":0.177},{"t":4,"T":75,"f":0.177}
]
},
"vconcat":[
{"width":555,"height":387,
"layer":[
{"data":{"name":"pa"},"mark":{"type":"point","shape":"circle","filled":false,"size":30,"strokeWidth":1.8,"opacity":1},
"encoding":{
"x":{"field":"t","type":"quantitative","scale":{"domain":[-0.104,4],"nice":false,"zero":false},"axis":{"values":[0,1,2,3,4],"format":"d","title":"Time (ns)"}},
"y":{"field":"r","type":"quantitative","scale":{"domain":[0,0.35],"nice":false},"axis":{"values":[0,0.1,0.2,0.3],"format":".1f","title":"Anisotropy, r(t)"}},
"color":{"field":"T","type":"nominal","scale":{"domain":[25,75],"range":["#dc3b1f","#34288e"]},"legend":{"title":null,"orient":"none","legendX":424,"legendY":300,"labelExpr":"datum.label + '°C'"}}}},
{"data":{"name":"fa"},"mark":{"type":"line","color":"black","strokeWidth":2.2,"interpolate":"monotone"},
"encoding":{"x":{"field":"t","type":"quantitative"},"y":{"field":"f","type":"quantitative"},"detail":{"field":"T","type":"nominal"}}},
{"data":{"values":[{}]},"mark":{"type":"text","fontSize":29,"fontWeight":"bold","align":"center","baseline":"alphabetic","color":"black"},
"encoding":{"x":{"datum":-0.665},"y":{"datum":0.3337},"text":{"value":"a"}}},
{"data":{"values":[{}]},"mark":{"type":"text","fontSize":27,"align":"center","baseline":"alphabetic","color":"black"},
"encoding":{"x":{"datum":1.96},"y":{"datum":0.322},"text":{"value":"Temporal Fluorescence anisotropy of PPIX"}}},
{"data":{"values":[{}]},"mark":{"type":"text","fontSize":27,"align":"center","baseline":"alphabetic","color":"black"},
"encoding":{"x":{"datum":1.96},"y":{"datum":0.292},"text":{"value":"bound to HSA"}}},
{"data":{"values":[{}]},"mark":{"type":"text","fontSize":29,"align":"center","baseline":"alphabetic","color":"black"},
"encoding":{"x":{"datum":1.835},"y":{"datum":0.0298},"text":{"value":"pH= 2"}}}
]},
{"width":555,"height":390,
"layer":[
{"data":{"name":"pb"},"mark":{"type":"point","shape":"circle","filled":false,"size":30,"strokeWidth":1.8,"opacity":1},
"encoding":{
"x":{"field":"t","type":"quantitative","scale":{"domain":[-0.104,4],"nice":false,"zero":false},"axis":{"values":[0,1,2,3,4],"format":"d","title":"Time (ns)"}},
"y":{"field":"r","type":"quantitative","scale":{"domain":[0,0.35],"nice":false},"axis":{"values":[0,0.1,0.2,0.3],"format":".1f","title":"Anisotropy, r(t)"}},
"color":{"field":"T","type":"nominal","scale":{"domain":[25,75],"range":["#dc3b1f","#34288e"]},"legend":{"title":null,"orient":"none","legendX":419,"legendY":291,"labelExpr":"datum.label + '°C'"}}}},
{"data":{"name":"fb"},"mark":{"type":"line","color":"black","strokeWidth":2.2,"interpolate":"monotone"},
"encoding":{"x":{"field":"t","type":"quantitative"},"y":{"field":"f","type":"quantitative"},"detail":{"field":"T","type":"nominal"}}},
{"data":{"values":[{}]},"mark":{"type":"text","fontSize":29,"fontWeight":"bold","align":"center","baseline":"alphabetic","color":"black"},
"encoding":{"x":{"datum":-0.599},"y":{"datum":0.3204},"text":{"value":"b"}}},
{"data":{"values":[{}]},"mark":{"type":"text","fontSize":29,"align":"center","baseline":"alphabetic","color":"black"},
"encoding":{"x":{"datum":1.837},"y":{"datum":0.0251},"text":{"value":"pH= 7"}}}
]},
{"width":560,"height":387,
"layer":[
{"data":{"name":"pc"},"mark":{"type":"point","shape":"circle","filled":false,"size":30,"strokeWidth":1.8,"opacity":1},
"encoding":{
"x":{"field":"t","type":"quantitative","scale":{"domain":[-0.148,4],"nice":false,"zero":false},"axis":{"values":[0,1,2,3,4],"format":"d","title":"Time (ns)"}},
"y":{"field":"r","type":"quantitative","scale":{"domain":[0,0.3],"nice":false},"axis":{"values":[0,0.1,0.2,0.3],"format":".1f","title":"Anisotropy, r(t)"}},
"color":{"field":"T","type":"nominal","scale":{"domain":[25,75],"range":["#dc3b1f","#34288e"]},"legend":{"title":null,"orient":"none","legendX":430,"legendY":283,"labelExpr":"datum.label + '°C'"}}}},
{"data":{"name":"fc"},"mark":{"type":"line","color":"black","strokeWidth":2.2,"interpolate":"monotone"},
"encoding":{"x":{"field":"t","type":"quantitative"},"y":{"field":"f","type":"quantitative"},"detail":{"field":"T","type":"nominal"}}},
{"data":{"values":[{}]},"mark":{"type":"text","fontSize":29,"fontWeight":"bold","align":"center","baseline":"alphabetic","color":"black"},
"encoding":{"x":{"datum":-0.656},"y":{"datum":0.2922},"text":{"value":"c"}}},
{"data":{"values":[{}]},"mark":{"type":"text","fontSize":29,"align":"center","baseline":"alphabetic","color":"black"},
"encoding":{"x":{"datum":1.852},"y":{"datum":0.0132},"text":{"value":"pH= 11"}}}
]}
]
}
